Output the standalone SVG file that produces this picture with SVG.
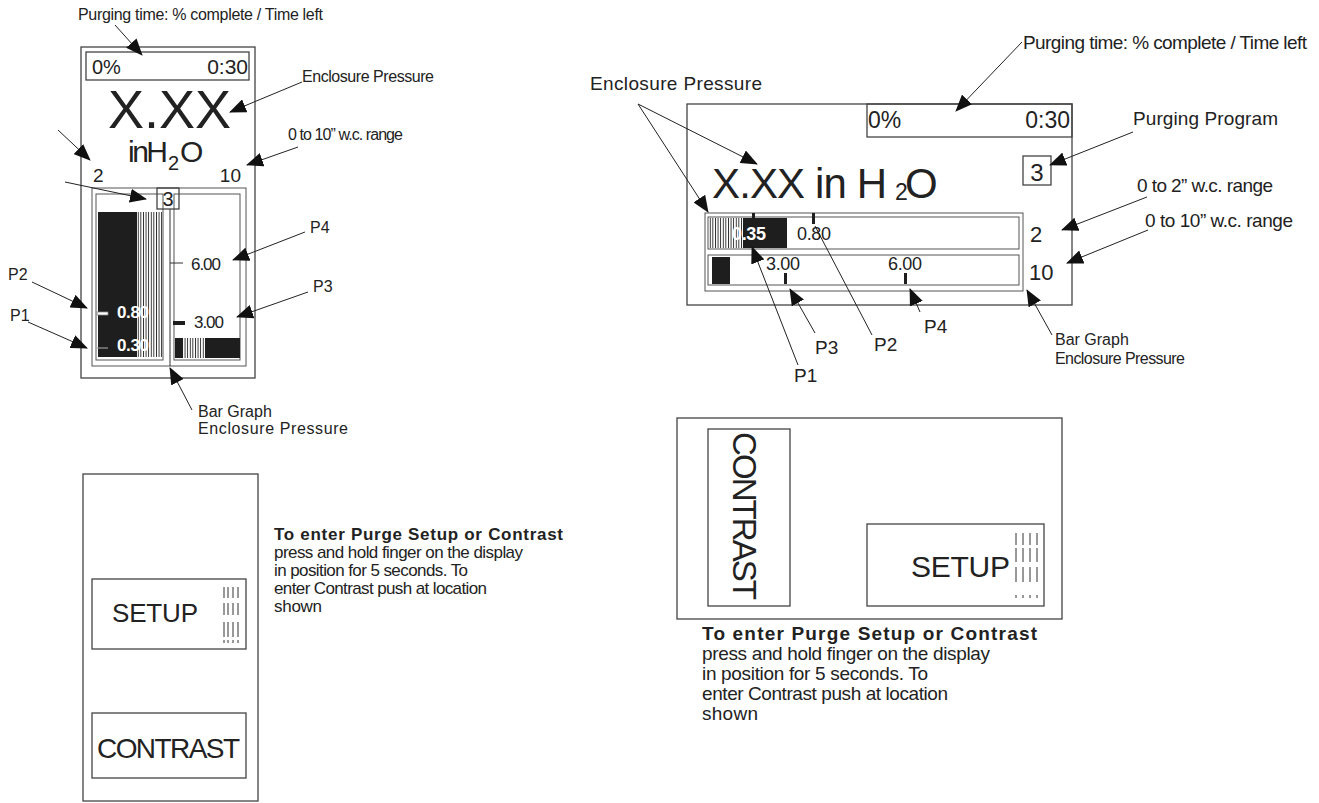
<svg xmlns="http://www.w3.org/2000/svg" width="1319" height="803" viewBox="0 0 1319 803">
<defs>
<style>
text{font-family:"Liberation Sans",Arial,sans-serif;fill:#222}
.frame{fill:none;stroke:#444;stroke-width:1.3}
.thin{fill:none;stroke:#555;stroke-width:1}
.lbl{font-size:16px}
.rl{font-size:19px}
.con{fill:none;stroke:#222;stroke-width:1}
.arr{marker-end:url(#ah)}
.wb{fill:#fff;font-weight:bold}
.blk{fill:#1e1e1e}
.hl{stroke:#333;stroke-width:1}
</style>
<marker id="ah" markerUnits="userSpaceOnUse" markerWidth="18" markerHeight="14" refX="16" refY="7" orient="auto">
<path d="M0,0 L17,7 L0,14 z" fill="#111"/>
</marker>
<pattern id="vh" width="2.6" height="4" patternUnits="userSpaceOnUse">
<rect width="2.6" height="4" fill="#fff"/><rect width="0.9" height="4" fill="#222"/>
</pattern>
</defs>

<g id="left-display">
<rect class="frame" x="81" y="47" width="174" height="331"/>
<rect class="frame" x="86" y="52" width="163" height="28"/>
<text x="92" y="74" font-size="20">0%</text>
<text x="248" y="74" font-size="21" text-anchor="end">0:30</text>
<text x="108" y="128" font-size="54">X.XX</text>
<text x="128" y="162" font-size="30" textLength="40">inH</text>
<text x="168" y="170" font-size="20">2</text>
<text x="180" y="162" font-size="30">O</text>
<text x="93" y="182" font-size="19">2</text>
<text x="241" y="182" font-size="19" text-anchor="end">10</text>
<rect class="thin" x="92" y="188" width="154" height="178"/>
<rect class="thin" x="96" y="194" width="67" height="166"/>
<rect class="thin" x="174" y="194" width="66" height="166"/>
<line class="hl" x1="170" y1="209" x2="170" y2="366"/>
<rect class="frame" x="157" y="188" width="22" height="21" fill="#fff"/>
<text x="168" y="206" font-size="20" text-anchor="middle">3</text>
<rect class="blk" x="98" y="212" width="39" height="145"/>
<rect x="137" y="212" width="25" height="145" fill="url(#vh)"/>
<rect x="97" y="312" width="11" height="3" fill="#fff" stroke="#888" stroke-width="0.8"/>
<line x1="97" y1="348" x2="108" y2="348" stroke="#999" stroke-width="1.2"/>
<text class="wb" x="117" y="318" font-size="17" textLength="32">0.80</text>
<text class="wb" x="117" y="351" font-size="17" textLength="32">0.30</text>
<line x1="170" y1="263" x2="183" y2="263" stroke="#333" stroke-width="1"/>
<text x="191" y="270" font-size="17" textLength="30">6.00</text>
<rect class="blk" x="173" y="321" width="12" height="4"/>
<text x="194" y="328" font-size="17" textLength="30">3.00</text>
<rect class="blk" x="175" y="338" width="65" height="20"/>
<rect x="183" y="338" width="22" height="20" fill="url(#vh)"/>
</g>

<g id="right-display">
<rect class="frame" x="687" y="104" width="385" height="201"/>
<rect class="frame" x="867" y="104" width="205" height="33"/>
<text x="868" y="128" font-size="23">0%</text>
<text x="1070" y="128" font-size="23" text-anchor="end">0:30</text>
<rect class="frame" x="1023" y="156" width="28" height="29"/>
<text x="1037" y="181" font-size="24" text-anchor="middle">3</text>
<text x="712" y="198" font-size="42" textLength="175">X.XX in H</text>
<text x="895" y="200" font-size="23">2</text>
<text x="905" y="198" font-size="42">O</text>
<rect class="thin" x="705" y="213" width="318" height="78"/>
<rect class="thin" x="708" y="217" width="311" height="32"/>
<rect class="thin" x="708" y="255" width="311" height="30"/>
<rect x="709" y="218" width="34" height="30" fill="url(#vh)"/>
<rect class="blk" x="743" y="218" width="44" height="30"/>
<rect class="blk" x="752" y="213" width="3" height="6"/>
<rect class="blk" x="812" y="213" width="3" height="11"/>
<text class="wb" x="732" y="240" font-size="18" textLength="34">0.35</text>
<text x="797" y="240" font-size="18" textLength="34">0.80</text>
<rect class="blk" x="712" y="257" width="18" height="27"/>
<text x="766" y="270" font-size="18" textLength="34">3.00</text>
<text x="888" y="270" font-size="18" textLength="34">6.00</text>
<rect class="blk" x="784" y="273" width="3" height="11"/>
<rect class="blk" x="904" y="273" width="3" height="11"/>
<text x="1030" y="242" font-size="22">2</text>
<text x="1029" y="280" font-size="22">10</text>
</g>

<g id="left-touch-panel">
<rect class="frame" x="83" y="474" width="175" height="327"/>
<rect class="frame" x="92" y="579" width="154" height="70"/>
<text x="112" y="622" font-size="26" textLength="86">SETUP</text>
<g class="hl">
<line x1="224" y1="587" x2="224" y2="598"/><line x1="228" y1="587" x2="228" y2="598"/><line x1="233" y1="587" x2="233" y2="598"/><line x1="238" y1="587" x2="238" y2="598"/>
<line x1="224" y1="603" x2="224" y2="615"/><line x1="228" y1="603" x2="228" y2="615"/><line x1="233" y1="603" x2="233" y2="615"/><line x1="238" y1="603" x2="238" y2="615"/>
<line x1="224" y1="622" x2="224" y2="637"/><line x1="228" y1="622" x2="228" y2="637"/><line x1="233" y1="622" x2="233" y2="637"/><line x1="238" y1="622" x2="238" y2="637"/>
<line x1="224" y1="640" x2="224" y2="643"/><line x1="228" y1="640" x2="228" y2="643"/><line x1="233" y1="640" x2="233" y2="643"/><line x1="238" y1="640" x2="238" y2="643"/>
</g>
<rect class="frame" x="92" y="713" width="154" height="65"/>
<text x="97" y="758" font-size="28" textLength="143">CONTRAST</text>
</g>

<g id="left-instructions">
<text x="274" y="540" font-size="17" font-weight="bold" textLength="289">To enter Purge Setup or Contrast</text>
<text x="274" y="558" font-size="17" textLength="249">press and hold finger on the display</text>
<text x="274" y="576" font-size="17" textLength="194">in position for 5 seconds. To</text>
<text x="274" y="594" font-size="17" textLength="213">enter Contrast push at location</text>
<text x="274" y="612" font-size="17" textLength="48">shown</text>
</g>

<g id="right-touch-panel">
<rect class="frame" x="677" y="418" width="385" height="201"/>
<rect class="frame" x="708" y="429" width="82" height="177"/>
<text transform="translate(733,432) rotate(90)" font-size="33" textLength="168">CONTRAST</text>
<rect class="frame" x="867" y="524" width="177" height="82"/>
<text x="911" y="577" font-size="30" textLength="99">SETUP</text>
<g class="hl">
<line x1="1016" y1="533" x2="1016" y2="545"/><line x1="1023" y1="533" x2="1023" y2="545"/><line x1="1030" y1="533" x2="1030" y2="545"/><line x1="1037" y1="533" x2="1037" y2="545"/>
<line x1="1016" y1="548" x2="1016" y2="562"/><line x1="1023" y1="548" x2="1023" y2="562"/><line x1="1030" y1="548" x2="1030" y2="562"/><line x1="1037" y1="548" x2="1037" y2="562"/>
<line x1="1016" y1="567" x2="1016" y2="582"/><line x1="1023" y1="567" x2="1023" y2="582"/><line x1="1030" y1="567" x2="1030" y2="582"/><line x1="1037" y1="567" x2="1037" y2="582"/>
<line x1="1016" y1="595" x2="1016" y2="598"/><line x1="1023" y1="595" x2="1023" y2="598"/><line x1="1030" y1="595" x2="1030" y2="598"/><line x1="1037" y1="595" x2="1037" y2="598"/>
</g>
</g>

<g id="right-instructions">
<text x="702" y="640" font-size="19" font-weight="bold" textLength="335">To enter Purge Setup or Contrast</text>
<text x="702" y="660" font-size="19" textLength="288">press and hold finger on the display</text>
<text x="702" y="680" font-size="19" textLength="226">in position for 5 seconds. To</text>
<text x="702" y="700" font-size="19" textLength="246">enter Contrast push at location</text>
<text x="702" y="720" font-size="19" textLength="56">shown</text>
</g>

<g id="left-labels">
<text class="lbl" x="78" y="20" textLength="245">Purging time: % complete / Time left</text>
<text class="lbl" x="302" y="82" textLength="132">Enclosure Pressure</text>
<text class="lbl" x="288" y="140" textLength="115">0 to 10” w.c. range</text>
<text class="lbl" x="8" y="280">P2</text>
<text class="lbl" x="10" y="321">P1</text>
<text class="lbl" x="310" y="233">P4</text>
<text class="lbl" x="313" y="292">P3</text>
<text class="lbl" x="198" y="417">Bar Graph</text>
<text class="lbl" x="198" y="434" textLength="150">Enclosure Pressure</text>
</g>

<g id="right-labels">
<text class="rl" x="590" y="90" textLength="172">Enclosure Pressure</text>
<text class="rl" x="1023" y="49" textLength="284">Purging time: % complete / Time left</text>
<text class="rl" x="1133" y="125" textLength="145">Purging Program</text>
<text class="rl" x="1137" y="192" textLength="136">0 to 2” w.c. range</text>
<text class="rl" x="1145" y="227" textLength="148">0 to 10” w.c. range</text>
<text class="rl" x="794" y="382">P1</text>
<text class="rl" x="874" y="351">P2</text>
<text class="rl" x="815" y="354">P3</text>
<text class="rl" x="924" y="333">P4</text>
<text class="lbl" x="1055" y="345">Bar Graph</text>
<text class="lbl" x="1055" y="364" textLength="130">Enclosure Pressure</text>
</g>

<g id="connectors">
<line class="con arr" x1="115" y1="25" x2="142" y2="55"/>
<line class="con arr" x1="302" y1="82" x2="230" y2="112"/>
<line class="con arr" x1="298" y1="147" x2="247" y2="165"/>
<line class="con arr" x1="58" y1="130" x2="90" y2="160"/>
<line class="con arr" x1="65" y1="182" x2="146" y2="199"/>
<line class="con arr" x1="32" y1="282" x2="87" y2="308"/>
<line class="con arr" x1="28" y1="322" x2="87" y2="348"/>
<line class="con arr" x1="305" y1="232" x2="233" y2="260"/>
<line class="con arr" x1="308" y1="292" x2="237" y2="317"/>
<line class="con arr" x1="192" y1="410" x2="170" y2="368"/>
<line class="con arr" x1="1022" y1="42" x2="956" y2="111"/>
<line class="con arr" x1="638" y1="104" x2="757" y2="164"/>
<line class="con arr" x1="638" y1="104" x2="708" y2="212"/>
<line class="con arr" x1="1133" y1="132" x2="1050" y2="165"/>
<line class="con arr" x1="1147" y1="197" x2="1062" y2="230"/>
<line class="con arr" x1="1148" y1="230" x2="1067" y2="263"/>
<line class="con arr" x1="798" y1="365" x2="752" y2="247"/>
<line class="con" x1="872" y1="335" x2="815" y2="226"/>
<line class="con arr" x1="815" y1="333" x2="790" y2="289"/>
<line class="con arr" x1="920" y1="312" x2="910" y2="289"/>
<line class="con arr" x1="1052" y1="335" x2="1027" y2="290"/>
</g>
</svg>
